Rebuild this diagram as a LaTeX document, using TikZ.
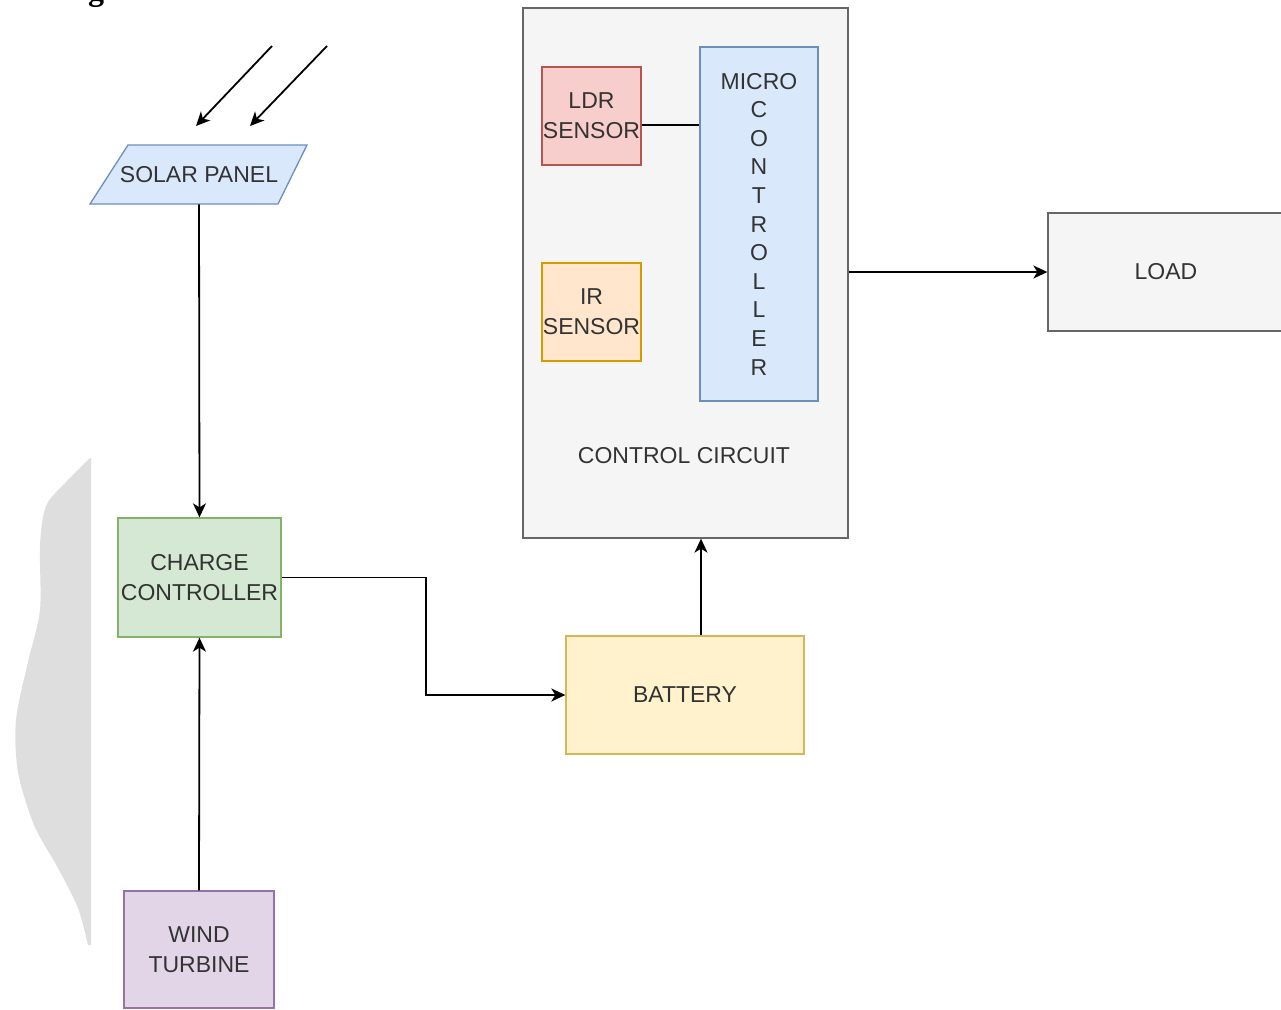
\documentclass[tikz,border=0pt]{standalone}
\usepackage{fontspec}
\setmainfont{Liberation Sans}
\newfontfamily\headfont{Liberation Serif}
\usetikzlibrary{arrows.meta,calc}
\definecolor{txt}{HTML}{333333}
\definecolor{bluef}{HTML}{DAE8FC}\definecolor{blued}{HTML}{6C8EBF}
\definecolor{greenf}{HTML}{D5E8D4}\definecolor{greend}{HTML}{82B366}
\definecolor{purpf}{HTML}{E1D5E7}\definecolor{purpd}{HTML}{9673A6}
\definecolor{yellf}{HTML}{FFF2CC}\definecolor{yelld}{HTML}{D6B656}
\definecolor{redf}{HTML}{F8CECC}\definecolor{redd}{HTML}{B85450}
\definecolor{orf}{HTML}{FFE6CC}\definecolor{ord}{HTML}{D79B00}
\definecolor{grayf}{HTML}{F5F5F5}\definecolor{grayd}{HTML}{666666}
\definecolor{pageshade}{HTML}{DEDEDE}
\begin{document}
\begin{tikzpicture}[x=0.5pt,y=-0.5pt,
  blk/.style={draw, line width=0.65pt, rectangle, inner sep=0pt, align=center,
    text=txt, font=\fontsize{11.5}{15}\selectfont},
  arr/.style={line width=0.9pt, -{Stealth[length=7pt,width=6.5pt,inset=2pt]}},
  ln/.style={line width=0.9pt}]
\useasboundingbox (0,0) rectangle (1281,1009);
\fill[white] (0,0) rectangle (1281,1009);
% page shade
\fill[pageshade] plot[smooth] coordinates {(90,458) (66,482) (46,506) (40,545) (40,610) (28,662) (16,720) (18,772) (34,825) (58,868) (78,908) (88,945)} -- (91,945) -- (91,458) -- cycle;
% heading fragment
\node[anchor=base, inner sep=0pt, font=\headfont\bfseries\fontsize{16}{16}\selectfont] (head) at (96,0) {g};
% sun rays
\coordinate (r1s) at (272,46); \coordinate (r1e) at (196,126);
\coordinate (r2s) at (327,46); \coordinate (r2e) at (250,126);
\draw[arr] (r1s) -- (r1e);
\draw[arr] (r2s) -- (r2e);
% solar panel
\filldraw[fill=bluef, draw=blued, line width=0.65pt] (128,145) -- (307,145) -- (278,204) -- (90,204) -- cycle;
\node[rectangle, inner sep=0pt, minimum height=29.5pt, minimum width=80pt, text=txt, font=\fontsize{11.5}{15}\selectfont] (solar) at (199,174.5) {SOLAR PANEL};
% boxes
\node[blk, fill=greenf, draw=greend, minimum width=81.5pt, minimum height=59.5pt] (charge) at (199.5,577.5) {CHARGE\\CONTROLLER};
\node[blk, fill=purpf, draw=purpd, minimum width=75pt, minimum height=58.5pt] (wind) at (199,949.5) {WIND\\TURBINE};
\node[blk, fill=yellf, draw=yelld, minimum width=119pt, minimum height=59pt] (battery) at (685,695) {BATTERY};
\node[blk, fill=grayf, draw=grayd, minimum width=162.5pt, minimum height=265pt] (cc) at (685.5,273) {};
\node[text=txt, font=\fontsize{11.5}{15}\selectfont, inner sep=0pt] (cclabel) at (684,456) {CONTROL CIRCUIT};
\node[blk, fill=redf, draw=redd, minimum width=49.5pt, minimum height=49pt] (ldr) at (591.5,116) {LDR\\SENSOR};
\node[blk, fill=orf, draw=ord, minimum width=49.5pt, minimum height=49pt] (ir) at (591.5,312) {IR\\SENSOR};
\node[blk, fill=bluef, draw=blued, minimum width=59pt, minimum height=177pt, font=\fontsize{11.5}{14.3}\selectfont] (mcu) at (759,224) {MICRO\\C\\O\\N\\T\\R\\O\\L\\L\\E\\R};
\node[blk, fill=grayf, draw=grayd, minimum width=118pt, minimum height=59pt] (load) at (1166,272) {LOAD};
% connectors
\draw[arr] (solar.south) -- (charge.north);
\draw[arr] (wind.north) -- (charge.south);
\draw[arr] (charge.east) -- ++(144,0) |- (battery.west);
\draw[arr] ([xshift=8pt]battery.north) -- ([xshift=8pt]battery.north |- cc.south);
\draw[ln] ([yshift=-4.5pt]ldr.east) -- ([yshift=-4.5pt]ldr.east -| mcu.west);
\draw[arr] (cc.east |- load.west) -- (load.west);
\end{tikzpicture}
\end{document}
